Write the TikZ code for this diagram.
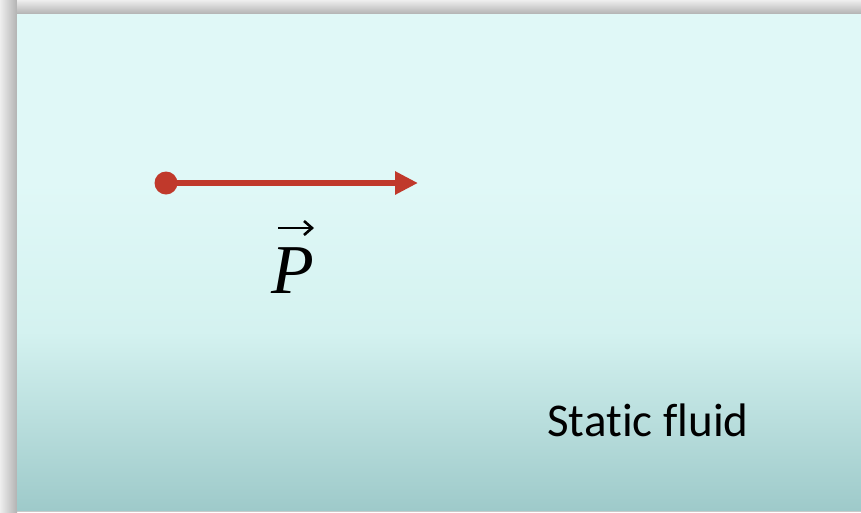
\documentclass[tikz,border=0pt]{standalone}
\usepackage{fontspec}
\newfontfamily\calib[Ligatures=CommonOff]{Carlito}
\newfontfamily\serifit{Liberation Serif}
\usetikzlibrary{arrows.meta}
\definecolor{wtop}{RGB}{224,248,247}
\definecolor{wmid}{RGB}{212,242,240}
\definecolor{wbot}{RGB}{158,202,202}
\definecolor{shlight}{RGB}{238,238,238}
\definecolor{shdark}{RGB}{178,178,178}
\definecolor{vecred}{RGB}{192,57,43}
\pgfdeclareverticalshading{water}{100bp}{color(0bp)=(wbot); color(25bp)=(wbot); color(43bp)=(wmid); color(58bp)=(wtop); color(100bp)=(wtop)}
\tikzset{
  vecline/.style={draw=vecred, line width=6pt, -{Triangle[length=23pt,width=22pt]}},
  vecdot/.style={circle, fill=vecred, inner sep=0pt, minimum size=23pt},
  lbl/.style={inner sep=0pt, text=black},
  accent/.style={draw=black, line width=2.6pt, -{Straight Barb[length=8pt,width=14pt]}}
}
\begin{document}
\begin{tikzpicture}[x=1pt,y=-1pt]
\useasboundingbox (0,0) rectangle (861,512);
% shadow strips
\fill[shdark!60!shlight] (0,0) rectangle (861,512);
\shade[left color=shlight, right color=shdark] (0,0) rectangle (17,512);
\shade[top color=shlight, bottom color=shdark] (17,0) rectangle (861,14);
% water background
\shade[shading=water] (17,14) rectangle (861,510);
% vector
\node[vecdot] (tail) at (166,183) {};
\coordinate (head) at (418,183);
\draw[vecline] (tail.center) -- (head);
\node[lbl, anchor=base, font=\serifit\itshape\fontsize{70}{74}\selectfont] (P) at (293,293) {P};
\coordinate (accL) at (278,228);
\coordinate (accR) at (314,228);
\draw[accent] (accL) -- (accR);
\node[lbl, font=\calib\fontsize{47}{50}\selectfont] (fluid) at (648,420) {Static fluid};
\end{tikzpicture}
\end{document}
